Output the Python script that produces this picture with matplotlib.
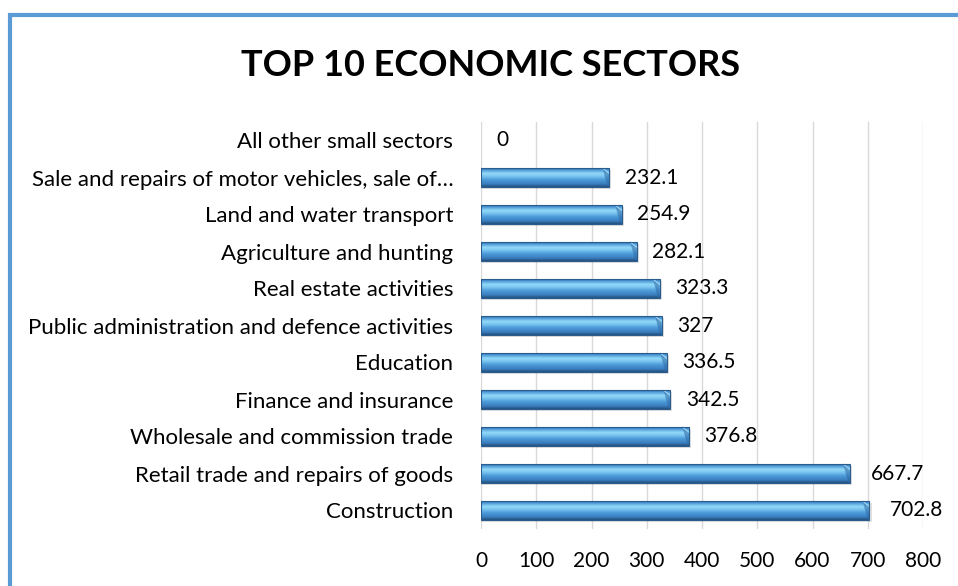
import matplotlib
matplotlib.use("Agg")
from matplotlib import pyplot as plt
from matplotlib.colors import LinearSegmentedColormap
from matplotlib.patches import Rectangle, Polygon
import numpy as np

sectors = [
    "All other small sectors",
    "Sale and repairs of motor vehicles, sale of\u2026",
    "Land and water transport",
    "Agriculture and hunting",
    "Real estate activities",
    "Public administration and defence activities",
    "Education",
    "Finance and insurance",
    "Wholesale and commission trade",
    "Retail trade and repairs of goods",
    "Construction",
]
values = [0, 232.1, 254.9, 282.1, 323.3, 327, 336.5, 342.5, 376.8, 667.7, 702.8]
value_labels = ["0", "232.1", "254.9", "282.1", "323.3", "327", "336.5",
                "342.5", "376.8", "667.7", "702.8"]
xticks = [0, 100, 200, 300, 400, 500, 600, 700, 800]

plt.rcParams["font.family"] = ["Lato", "DejaVu Sans"]

W, H = 958, 586
fig = plt.figure(figsize=(W / 100, H / 100), dpi=100)

# chart frame: blue border on the left and top
frame = Rectangle((10 / W, -0.1), 1.2, 1.1 - 15 / H, transform=fig.transFigure,
                  fill=False, edgecolor="#5B9BD5", linewidth=3.0)
fig.patches.append(frame)

fig.text(491 / W, 1 - 66 / H, "TOP 10 ECONOMIC SECTORS", ha="center", va="center",
         fontsize=26, fontweight="bold", color="black")

ax_left, ax_right = 481 / W, 923 / W
ax_top, ax_bot = 1 - 122 / H, 1 - 529 / H
ax = fig.add_axes([ax_left, ax_bot, ax_right - ax_left, ax_top - ax_bot])

n = len(sectors)
ypos = np.arange(n)[::-1]
bar_h = 0.5

# vertical shading for the cylinder-look bars
cmap = LinearSegmentedColormap.from_list("barshade", [
    (0.00, "#2F6AA6"),
    (0.10, "#4F9BDA"),
    (0.28, "#93DAF8"),
    (0.42, "#7CC6F0"),
    (0.62, "#4C9BDA"),
    (0.85, "#3B7DBD"),
    (1.00, "#22507E"),
])
grad = np.linspace(0, 1, 64).reshape(-1, 1)

for y, v in zip(ypos, values):
    if v <= 0:
        continue
    y0, y1 = y - bar_h / 2, y + bar_h / 2
    # soft shadow underneath
    ax.add_patch(Rectangle((2, y0 - 0.06), v + 2, bar_h, facecolor="#000000",
                           alpha=0.12, edgecolor="none", zorder=2))
    ax.imshow(grad, cmap=cmap, aspect="auto", extent=(0, v, y0, y1),
              origin="upper", zorder=3, interpolation="bilinear")
    # bevelled right end
    bev = 12
    ax.add_patch(Polygon([(v - bev, y1), (v, y1 - 0.14), (v, y0), (v - 3, y0)],
                         closed=True, facecolor="#2F6AA6", alpha=0.55,
                         edgecolor="none", zorder=4))
    ax.plot([v - bev, v], [y1, y1 - 0.14], color="#9FD8F5", lw=0.8, zorder=5)
    ax.add_patch(Rectangle((0, y0), v, bar_h, fill=False, edgecolor="#2A5C8E",
                           linewidth=0.8, zorder=5))

for y, v, lab in zip(ypos, values, value_labels):
    off = 28 if v < 500 else 38
    ax.text(v + off, y, lab, ha="left", va="center", fontsize=15, color="black")

ax.set_xlim(0, 800)
ax.set_ylim(-0.5, n - 0.5)
ax.set_xticks(xticks)
ax.set_xticklabels([str(t) for t in xticks], fontsize=15)
ax.set_yticks(ypos)
ax.set_yticklabels(sectors, fontsize=16)
ax.tick_params(axis="x", length=0, pad=16)
ax.tick_params(axis="y", length=0, pad=20)
for s in ax.spines.values():
    s.set_visible(False)
ax.grid(axis="x", color="#D9D9D9", linewidth=1.0, zorder=0)
ax.set_axisbelow(True)

fig.savefig("out.png", dpi=100, facecolor="white")
